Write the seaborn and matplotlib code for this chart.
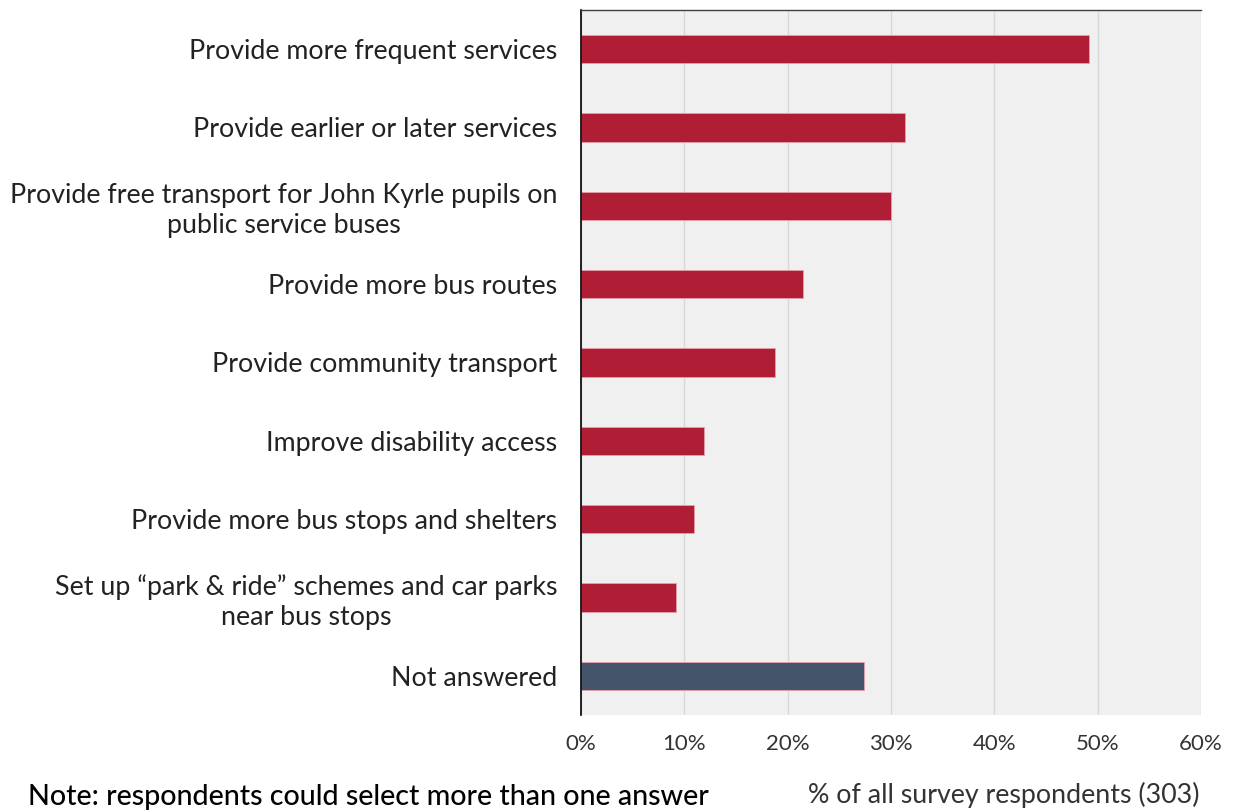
import matplotlib
matplotlib.use("Agg")
import matplotlib.pyplot as plt
import seaborn as sns
import pandas as pd
from matplotlib.ticker import PercentFormatter, MultipleLocator

categories = [
    "Provide more frequent services",
    "Provide earlier or later services",
    "Provide free transport for John Kyrle pupils on\npublic service buses",
    "Provide more bus routes",
    "Provide community transport",
    "Improve disability access",
    "Provide more bus stops and shelters",
    "Set up \u201cpark & ride\u201d schemes and car parks\nnear bus stops",
    "Not answered",
]
values = [49.2, 31.4, 30.0, 21.5, 18.8, 11.9, 10.9, 9.2, 27.4]
groups = ["answer"] * 8 + ["none"]
palette = {"answer": "#b01e35", "none": "#44546a"}

df = pd.DataFrame({"category": categories, "value": values, "group": groups})

sns.set_theme(style="white")
plt.rcParams["font.family"] = ["Lato", "DejaVu Sans"]

fig = plt.figure(figsize=(12.34, 8.10), dpi=100)
ax = fig.add_axes([0.4708, 0.1173, 0.5025, 0.8704])
ax.set_facecolor("#f0f0f0")

sns.barplot(data=df, x="value", y="category", hue="group", palette=palette,
            order=categories, width=0.36, dodge=False, legend=False,
            saturation=1, edgecolor="#e6a0aa", linewidth=0.6, ax=ax)

ax.set_xlim(0, 60)
ax.set_ylim(8.5, -0.5)
ax.xaxis.set_major_locator(MultipleLocator(10))
ax.xaxis.set_major_formatter(PercentFormatter(decimals=0))
ax.grid(axis="x", color="#d9d9d9", linewidth=1.0)
ax.set_axisbelow(True)
ax.set_xlabel("")
ax.set_ylabel("")

for s in ["bottom", "right"]:
    ax.spines[s].set_visible(False)
ax.spines["left"].set_color("#000000")
ax.spines["left"].set_linewidth(1.2)
ax.spines["top"].set_color("#404040")
ax.spines["top"].set_linewidth(1.0)

ax.tick_params(axis="y", length=0, pad=17, labelsize=19.3, labelcolor="#222222")
ax.tick_params(axis="x", length=0, pad=14, labelsize=16, labelcolor="#333333")
for lab in ax.get_yticklabels():
    lab.set_horizontalalignment("right")
    lab.set_multialignment("center")
    lab.set_linespacing(1.25)

fig.text(28 / 1234, 1 - 797 / 810, "Note: respondents could select more than one answer",
         fontsize=20.6, color="#000000", va="center", ha="left", fontweight="medium")
fig.text(1200 / 1234, 1 - 795 / 810, "% of all survey respondents (303)",
         fontsize=19.3, color="#333333", va="center", ha="right")

fig.savefig("out.png", dpi=100)
